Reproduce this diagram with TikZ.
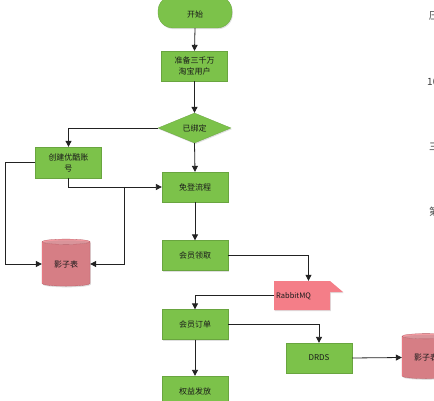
\documentclass[tikz,border=0pt]{standalone}
\usepackage{fontspec}
\setmainfont{Noto Sans CJK SC}
\usetikzlibrary{arrows.meta,shapes.geometric,shadows}
\definecolor{boxgreen}{HTML}{7CC24A}
\definecolor{boxpink}{HTML}{F47E88}
\definecolor{pinktop}{HTML}{F79CA3}
\definecolor{linegray}{HTML}{222222}
\definecolor{txt}{HTML}{1A1A1A}
\tikzset{
  x=1pt, y=-1pt,
  sh/.style={drop shadow={opacity=0.25, shadow xshift=0.8pt, shadow yshift=-1.2pt}},
  stepbox/.style={draw=boxgreen!85!black, line width=0.3pt, fill=boxgreen, sh, minimum width=66pt, minimum height=30pt, inner sep=1pt, align=center, font=\fontsize{8}{11}\selectfont, text=txt},
  termbox/.style={stepbox, rounded corners=15pt, minimum width=74pt, minimum height=32pt},
  decide/.style={diamond, draw=boxgreen!85!black, line width=0.3pt, fill=boxgreen, sh, minimum width=73pt, minimum height=30pt, aspect=2.4, inner sep=0pt, font=\fontsize{8}{10}\selectfont, text=txt},
  dbase/.style={cylinder, shape border rotate=90, aspect=0.22, draw=boxpink!75!black, line width=0.3pt, cylinder uses custom fill, cylinder body fill=boxpink, cylinder end fill=pinktop, sh, minimum width=48pt, minimum height=47pt, inner sep=0pt, font=\fontsize{8}{10}\selectfont, text=txt},
  conn/.style={draw=linegray, line width=0.8pt, -{Triangle[length=6pt,width=6pt]}},
  side/.style={font=\fontsize{10}{12}\selectfont, text=txt!85, anchor=west, inner sep=0pt}
}
\begin{document}
\begin{tikzpicture}
\useasboundingbox (0,0) rectangle (434,401);
\clip (0,0) rectangle (434,401);
\fill[white] (0,0) rectangle (434,401);

% nodes
\node[termbox] (start) at (195,12) {};
\node[font=\fontsize{8}{10}\selectfont, text=txt] (starttxt) at (195,14) {开始};
\node[stepbox] (prep) at (194.5,66) {准备三千万\\淘宝用户};
\node[decide] (bound) at (194.5,128) {已绑定};
\node[stepbox, minimum height=31pt] (create) at (68.5,162.5) {创建优酷账\\号};
\node[stepbox] (mian) at (195,187) {免登流程};
\node[dbase] (cyl1) at (66,264) {影子表};
\node[stepbox] (lingqu) at (195,255.5) {会员领取};

% RabbitMQ flag shape
\node[minimum width=69pt, minimum height=29pt, inner sep=0pt] (rabbit) at (308.5,295.5) {};
\path[fill=boxpink, sh] (274,281) -- (330,281) -- (343,292) -- (330,292) -- (330,310) -- (274,310) -- cycle;
\node[anchor=west, inner sep=0pt, font=\fontsize{7.5}{9}\selectfont, text=txt] (rabbittxt) at (276,296) {RabbitMQ};

\node[stepbox] (dingdan) at (195,324.5) {会员订单};
\node[stepbox] (drds) at (319,358) {DRDS};
\node[dbase, minimum height=45pt] (cyl2) at (426,357.5) {影子表};
\node[stepbox] (quanyi) at (195,391) {权益发放};

% coordinates
\coordinate (lft) at (5,162.5);
\coordinate (jn) at (124,187);

% connectors
\draw[conn] (start.south) -- (prep.north);
\draw[conn] (prep.south) -- (bound.north);
\draw[conn] (bound.west) -| (create.north);
\draw[conn] (bound.south) -- (mian.north);
\draw[conn] (create.south) |- (mian.west);
\draw[conn] (create.west) -- (lft) |- (cyl1.west);
\draw[conn] (jn) |- (cyl1.east);
\draw[conn] (mian.south) -- (lingqu.north);
\draw[conn] (lingqu.east) -| (rabbit.north);
\draw[conn] (rabbit.west) -| (dingdan.north);
\draw[conn] (dingdan.east) -| (drds.north);
\draw[conn] (drds.east) -- (cyl2.west);
\draw[conn] (dingdan.south) -- (quanyi.north);

% cut-off text at the right edge
\node[side] (s1) at (429,16) {压};
\node[side] (s2) at (427,82) {10};
\node[side] (s3) at (429,147) {三};
\node[side] (s4) at (429,212) {第};
\end{tikzpicture}
\end{document}
